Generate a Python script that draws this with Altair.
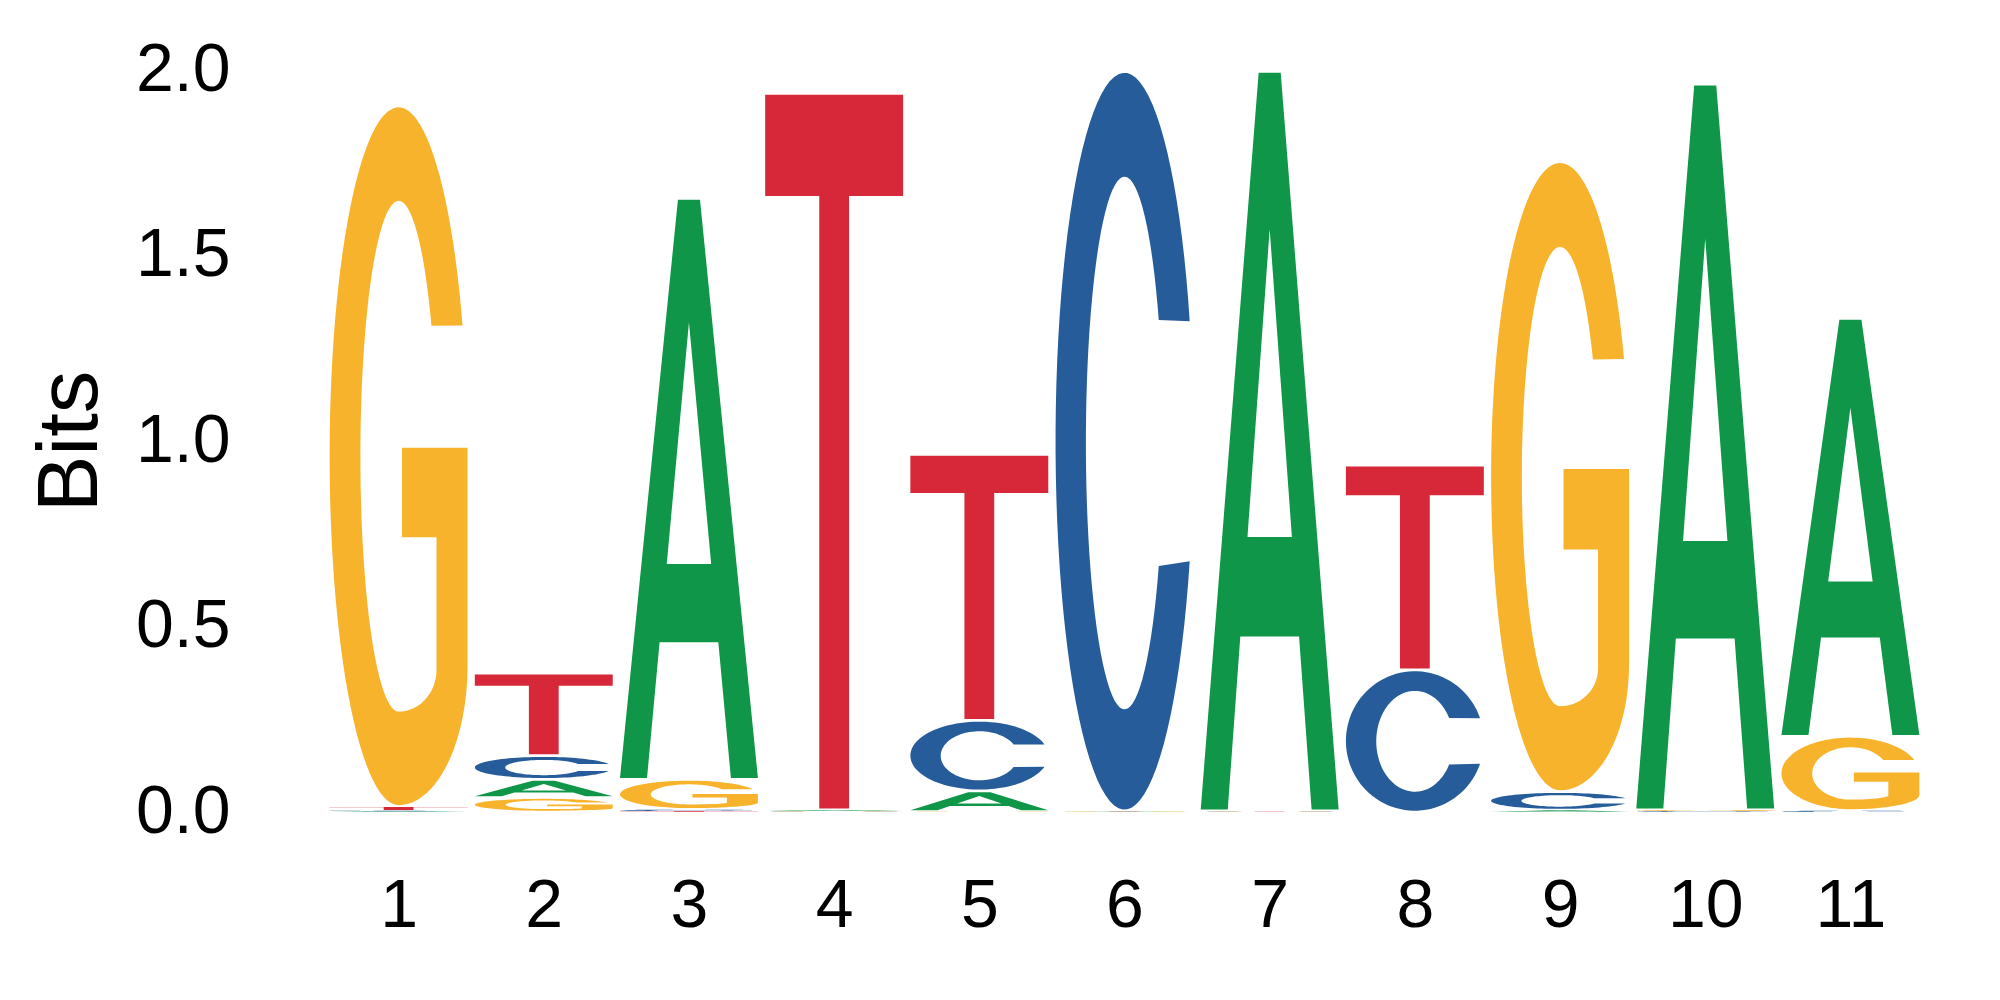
import math
import numpy as np
import pandas as pd
import altair as alt

# ---- data (information content in bits) ----
positions = [1, 2, 3, 4, 5, 6, 7, 8, 9, 10, 11]
bits_A = [0.002, 0.049, 1.566, 0.004, 0.056, 0.001, 1.993, 0.000, 0.005, 1.956, 1.126]
bits_C = [0.002, 0.064, 0.005, 0.001, 0.190, 1.993, 0.001, 0.383, 0.050, 0.003, 0.004]
bits_G = [1.888, 0.039, 0.081, 0.001, 0.001, 0.001, 0.001, 0.000, 1.698, 0.003, 0.200]
bits_T = [0.011, 0.222, 0.002, 1.931, 0.717, 0.001, 0.001, 0.552, 0.000, 0.000, 0.000]
letters = ["A", "C", "G", "T"]
letter_colors = ["#109648", "#255C99", "#F7B32B", "#D62839"]
y_ticks = [0.0, 0.5, 1.0, 1.5, 2.0]

# ---- glyph outlines in a unit box (u: 0..1 across, v: 0..1 up) ----
def arc(cx, cy, rx, ry, a0, a1, n=48):
    return [(cx + rx * math.cos(math.radians(a)), cy + ry * math.sin(math.radians(a)))
            for a in np.linspace(a0, a1, n)]

def glyph_C():
    outer = arc(0.5, 0.5, 0.5, 0.5, 19, 341, 90)
    inner = arc(0.5, 0.4975, 0.28, 0.3615, -27.5, -332.5, 80)
    return {"fill": [outer + inner], "hole": []}

def glyph_G():
    pts = arc(0.5, 0.5, 0.5, 0.5, 22, 270, 80)
    pts += arc(0.5, 0.2, 0.5, 0.2, 270, 360, 24)
    pts += [(1.0, 0.512), (0.525, 0.512), (0.525, 0.384), (0.775, 0.384), (0.775, 0.194)]
    pts += arc(0.5, 0.194, 0.275, 0.06, 0, -90, 16)
    pts += arc(0.5, 0.5, 0.277, 0.366, -90, -329.3, 70)
    return {"fill": [pts], "hole": []}

def glyph_T():
    pts = [(0, 1), (1, 1), (1, 0.858), (0.608, 0.858), (0.608, 0), (0.392, 0),
           (0.392, 0.858), (0, 0.858)]
    return {"fill": [pts], "hole": []}

def glyph_A():
    outer = [(0, 0), (0.42, 1), (0.58, 1), (1, 0), (0.804, 0), (0.713, 0.235),
             (0.287, 0.235), (0.196, 0)]
    hole = [(0.5, 0.788), (0.339, 0.37), (0.661, 0.37)]
    return {"fill": [outer], "hole": [hole]}

GLYPHS = {"A": glyph_A(), "C": glyph_C(), "G": glyph_G(), "T": glyph_T()}
W = 0.95

rows = []
series = {"A": bits_A, "C": bits_C, "G": bits_G, "T": bits_T}
for k, p in enumerate(positions):
    entries = sorted([(series[l][k], l) for l in letters if series[l][k] > 0])
    y0 = 0.0
    for h, l in entries:
        pad = min(0.0035, 0.12 * h)
        for kind in ("fill", "hole"):
            for j, poly in enumerate(GLYPHS[l][kind]):
                gid = f"{p}-{l}-{kind}-{j}"
                for i, (u, v) in enumerate(poly):
                    rows.append({"gid": gid, "kind": kind, "letter": l, "i": i,
                                 "x": p - W / 2 + u * W,
                                 "y": y0 + pad + v * (h - 2 * pad)})
        y0 += h

df = pd.DataFrame(rows)

FONT = "Liberation Sans"
xenc = alt.X("x:Q", scale=alt.Scale(domain=[0.5, 11.5], nice=False, zero=False),
             axis=alt.Axis(values=positions, format="d", title=None, domain=False,
                           ticks=False, grid=False, labelFontSize=68, labelFont=FONT,
                           labelColor="black", labelPadding=60))
yenc = alt.Y("y:Q", scale=alt.Scale(domain=[0, 2], nice=False, zero=True),
             axis=alt.Axis(values=y_ticks, format=".1f", title="Bits", domain=False,
                           ticks=False, grid=False, labelFontSize=68, labelFont=FONT,
                           labelColor="black", labelPadding=96, titleFont=FONT,
                           titleFontSize=85, titleFontWeight="normal", titleColor="black",
                           titleAngle=270, titleX=-230, titleY=371,
                           titleBaseline="alphabetic", titleAlign="center"))

base = alt.Chart(df)
letter_layer = base.transform_filter(alt.datum.kind == "fill").mark_line(
    filled=True, strokeWidth=0
).encode(
    x=xenc, y=yenc,
    color=alt.Color("letter:N", scale=alt.Scale(domain=letters, range=letter_colors), legend=None),
    detail="gid:N",
    order="i:Q",
)
hole_layer = base.transform_filter(alt.datum.kind == "hole").mark_line(
    filled=True, strokeWidth=0, color="white"
).encode(x=xenc, y=yenc, detail="gid:N", order="i:Q")

chart = alt.layer(letter_layer, hole_layer).properties(
    width=1597, height=742,
    background="white",
    autosize=alt.AutoSizeParams(type="none"),
    padding={"left": 318, "top": 62, "right": 10, "bottom": 170},
).configure_view(stroke="transparent", strokeWidth=0)

chart.save("out.html", embed_options={"renderer": "svg", "actions": False})
